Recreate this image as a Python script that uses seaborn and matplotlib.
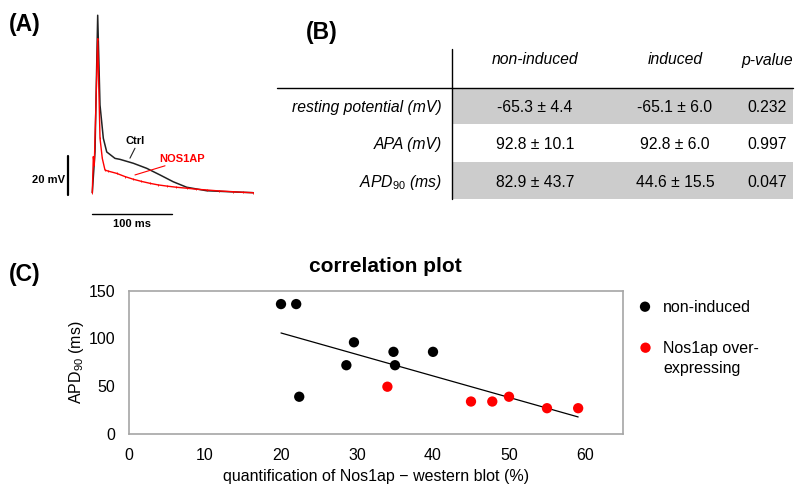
import matplotlib
matplotlib.use("Agg")
import matplotlib.pyplot as plt
import numpy as np
import pandas as pd
import seaborn as sns

sns.set_theme(style="white")
plt.rcParams["font.family"] = ["Liberation Sans", "DejaVu Sans"]
plt.rcParams["mathtext.fontset"] = "custom"
plt.rcParams["mathtext.rm"] = "Liberation Sans"
plt.rcParams["mathtext.it"] = "Liberation Sans:italic"
plt.rcParams["mathtext.bf"] = "Liberation Sans:bold"
plt.rcParams["mathtext.default"] = "regular"
for key in ["text.color", "axes.labelcolor", "xtick.color", "ytick.color"]:
    plt.rcParams[key] = "black"

# ---------------- data ----------------
# (A) action potential traces, time in ms, voltage in mV above rest
ctrl_t = [0, 3.4, 6.8, 9.7, 13.9, 18.2, 28.6, 34.9, 51.7, 68.6, 85.4, 102.1, 119.0, 144.3, 177.8, 203.0]
ctrl_v = [0, 21.0, 91.0, 45.0, 27.9, 20.9, 17.6, 17.1, 15.1, 12.5, 9.1, 5.6, 2.8, 1.0, 0.4, 0]
nos_t = [0, 1.3, 2.5, 6.8, 9.7, 12.6, 16.0, 19.8, 30.8, 41.0, 51.7, 62.0, 72.8, 83.0, 93.8,
         106.0, 119.0, 131.0, 144.3, 160.0, 177.8, 190.0, 203.0]
nos_v = [0, 18.5, 14.0, 79.0, 28.0, 17.6, 11.6, 11.1, 9.9, 8.3, 6.9, 5.8, 4.8, 4.0, 3.4,
         2.8, 2.3, 1.8, 1.4, 0.9, 0.5, 0.2, 0]

# (B) table
col_labels = ["non-induced", "induced", "p-value"]
row_labels = ["resting potential (mV)", "APA (mV)", r"APD$_{\mathit{90}}$ (ms)"]
non_induced = ["-65.3 ± 4.4", "92.8 ± 10.1", "82.9 ± 43.7"]
induced = ["-65.1 ± 6.0", "92.8 ± 6.0", "44.6 ± 15.5"]
p_values = ["0.232", "0.997", "0.047"]

# (C) correlation plot
non_x = [20.0, 22.0, 22.4, 29.6, 28.6, 34.8, 35.0, 40.0]
non_y = [136, 136, 39, 96, 72, 86, 72, 86]
over_x = [34.0, 45.0, 47.8, 50.0, 55.0, 59.1]
over_y = [49.5, 34, 34, 39, 27, 27]
groups = ["non-induced", "Nos1ap over-\nexpressing"]

W, H = 808, 487
fig = plt.figure(figsize=(W / 100, H / 100), dpi=100)

# overlay axes in pixel coordinates (table, panel labels, legend)
ov = fig.add_axes([0, 0, 1, 1])
ov.set_xlim(0, W)
ov.set_ylim(H, 0)
ov.axis("off")

for lab, (x, y) in zip(["(A)", "(B)", "(C)"], [(25, 25), (322, 32), (25, 275)]):
    ov.text(x, y, lab, ha="center", va="center", fontsize=16.5, fontweight="bold")

# ---------------- (B) table ----------------
row_edges = [87.7, 124.3, 162.3, 199.0]
col_x = [535, 675, 767]
tbl_left, tbl_split, tbl_right = 277, 452.3, 793
for i in range(len(row_labels)):
    y0, y1 = row_edges[i], row_edges[i + 1]
    yc = (y0 + y1) / 2 + 1.5
    if i % 2 == 0:
        ov.fill_between([tbl_split, tbl_right], y0, y1, color="#cccccc", lw=0)
    ov.text(441.7, yc, row_labels[i], ha="right", va="center", fontsize=11.3, fontstyle="italic")
    for x, val in zip(col_x, [non_induced[i], induced[i], p_values[i]]):
        ov.text(x, yc, val, ha="center", va="center", fontsize=11.3)
for x, lab in zip(col_x, col_labels):
    ov.text(x, 60, lab, ha="center", va="center", fontsize=11.3, fontstyle="italic")
ov.plot([tbl_left, tbl_right], [87.7, 87.7], color="black", lw=1.0)
ov.plot([tbl_split, tbl_split], [49.3, 199], color="black", lw=1.0)

# ---------------- (A) traces ----------------
# pixel mapping: t=0 at x=92.3 px, 0.793 px/ms; v=0 at y=192.7 px, 1.95 px/mV
axa = fig.add_axes([20 / W, 1 - 240 / H, 242 / W, 238 / H])
axa.set_facecolor("none")
axa.set_xlim((20 - 92.3) / 0.793, (262 - 92.3) / 0.793)
axa.set_ylim((192.7 - 240) / 1.95, (192.7 - 2) / 1.95)
axa.axis("off")

ctrl = pd.DataFrame({"t": ctrl_t, "v": ctrl_v})
nos = pd.DataFrame({"t": nos_t, "v": nos_v})
sns.lineplot(data=ctrl, x="t", y="v", color="#222222", lw=1.1, sort=False, estimator=None, ax=axa)
sns.lineplot(data=nos, x="t", y="v", color="red", lw=1.0, sort=False, estimator=None, ax=axa,
             marker="|", markersize=2, markeredgewidth=0.6, markeredgecolor="red")

axa.text(53.8, 26.5, "Ctrl", ha="center", va="center", fontsize=8, fontweight="bold")
axa.plot([53.8, 47.5], [22.8, 17.7], color="#222222", lw=0.8)
axa.text(112.7, 17.1, "NOS1AP", ha="center", va="center", fontsize=8, fontweight="bold", color="red")
axa.plot([91.7, 53.8], [13.8, 9.1], color="red", lw=0.8)

# scale bars
axa.plot([-30.3, -30.3], [-1.2, 18.8], color="black", lw=1.6)
axa.text(-34.4, 6.5, "20 mV", ha="right", va="center", fontsize=8, fontweight="bold")
axa.plot([0, 100], [-11.1, -11.1], color="black", lw=1.0)
axa.text(49.7, -15.9, "100 ms", ha="center", va="center", fontsize=8, fontweight="bold")

# ---------------- (C) correlation plot ----------------
df = pd.DataFrame({
    "x": non_x + over_x,
    "y": non_y + over_y,
    "group": [groups[0]] * len(non_x) + [groups[1]] * len(over_x),
})
axc = fig.add_axes([129 / W, 1 - 434 / H, 494 / W, 143.3 / H])
axc.set_facecolor("none")
sns.scatterplot(data=df, x="x", y="y", hue="group", palette={groups[0]: "black", groups[1]: "red"},
                s=55, edgecolor="none", legend=False, ax=axc, zorder=3)
sns.regplot(data=df, x="x", y="y", scatter=False, ci=None, color="black",
            line_kws=dict(lw=0.9), ax=axc)
axc.set_xlim(0, 65)
axc.set_ylim(0, 150)
axc.set_xticks([0, 10, 20, 30, 40, 50, 60])
axc.set_yticks([0, 50, 100, 150])
axc.tick_params(axis="both", length=0, pad=10, labelsize=11.5)
axc.set_xlabel("quantification of Nos1ap \u2212 western blot (%)", fontsize=11.5, labelpad=4.5)
axc.set_ylabel(r"APD$_{90}$ (ms)", fontsize=11.5, labelpad=2)
for sp in axc.spines.values():
    sp.set_color("#a6a6a6")
    sp.set_linewidth(1.2)
ov.text(385, 267, "correlation plot", ha="center", va="center", fontsize=15, fontweight="bold")

# legend
for (lx, ly), lab, col in zip([(645, 306.7), (645.5, 347.7)], groups, ["black", "red"]):
    ov.scatter([lx], [ly], s=55, color=col, edgecolor="none")
    ov.text(663.3, ly - 7, lab, ha="left", va="top", fontsize=11.5, linespacing=1.45)

fig.savefig("out.png", dpi=100)
